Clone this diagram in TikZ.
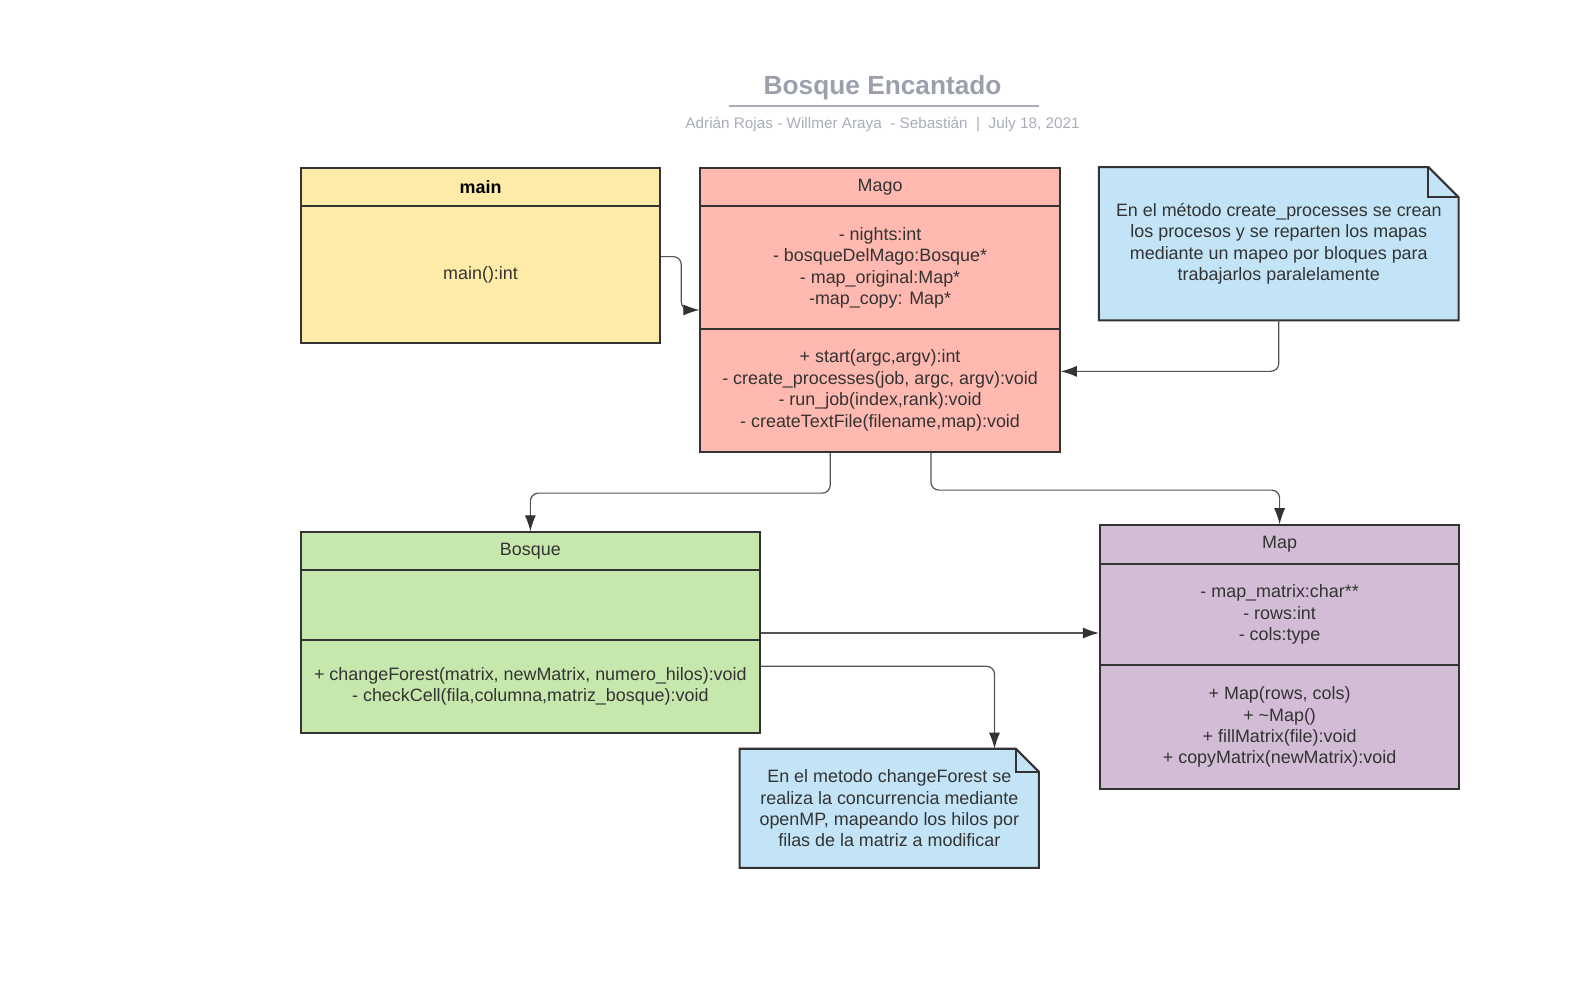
\documentclass[tikz,border=0pt]{standalone}
\usepackage{fontspec}
\setmainfont{Liberation Sans}
\usetikzlibrary{arrows.meta}

\definecolor{boxline}{HTML}{333333}
\definecolor{linkgray}{HTML}{555555}
\definecolor{textgray}{HTML}{333333}
\definecolor{titlegray}{HTML}{9CA0AD}
\definecolor{subgray}{HTML}{A9ADB8}
\definecolor{mainfill}{HTML}{FFEBA8}
\definecolor{magofill}{HTML}{FFB9B0}
\definecolor{notefill}{HTML}{C3E4F7}
\definecolor{bosquefill}{HTML}{C7E8AC}
\definecolor{mapfill}{HTML}{D3BCD5}

\tikzset{
    compart/.style={draw=boxline, line width=2pt, anchor=north west, inner sep=0pt,
        minimum width=357pt, align=center, text=textgray,
        font=\fontsize{17.8}{21.3}\selectfont},
    notetext/.style={anchor=north west, inner sep=0pt, align=center, text=textgray,
        font=\fontsize{17.8}{21.3}\selectfont},
    notebox/.style={draw=boxline, line width=2pt, fill=notefill},
    link/.style={draw=linkgray, line width=1.2pt, rounded corners=8pt,
        -{Latex[length=16pt,width=11pt,color=boxline]}},
}

\begin{document}
\begin{tikzpicture}[x=1pt, y=-1pt]
    \useasboundingbox (0,0) rectangle (1569,993.6);

    % Title
    \node[text=titlegray, font=\fontsize{26.1}{30}\selectfont\bfseries] (title) at (877,87.5) {Bosque Encantado};
    \draw[subgray, line width=2pt] (724,105) -- (1032,105);
    \node[text=subgray, font=\fontsize{15.2}{18}\selectfont] (subtitle) at (877,123.5) {Adrián Rojas - Willmer Araya \ - Sebastián \ | \ July 18, 2021};

    % Draw nodes for class main
    \node[compart, fill=mainfill, minimum height=38pt, text=black] (mainhead) at (298,166) {\textbf{main}};
    \node[compart, fill=mainfill, minimum height=136pt] (mainbody) at (298,204) {main():int};

    % Draw nodes for class Mago
    \node[compart, fill=magofill, minimum height=38pt] (magohead) at (695,166) {Mago};
    \node[compart, fill=magofill, minimum height=122pt] (magoattr) at (695,204)
        {- nights:int\\- bosqueDelMago:Bosque*\\- map\_original:Map*\\-map\_copy: Map*};
    \node[compart, fill=magofill, minimum height=122pt] (magometh) at (695,326)
        {+ start(argc,argv):int\\- create\_processes(job, argc, argv):void\\- run\_job(index,rank):void\\- createTextFile(filename,map):void};

    % Draw nodes for class Bosque
    \node[compart, fill=bosquefill, minimum width=456pt, minimum height=37pt] (bosquehead) at (298,528) {Bosque};
    \node[compart, fill=bosquefill, minimum width=456pt, minimum height=70pt] (bosqueattr) at (298,565) {};
    \node[compart, fill=bosquefill, minimum width=456pt, minimum height=92pt] (bosquemeth) at (298,635)
        {+ changeForest(matrix, newMatrix, numero\_hilos):void\\- checkCell(fila,columna,matriz\_bosque):void};

    % Draw nodes for class Map
    \node[compart, fill=mapfill, minimum height=38pt] (maphead) at (1092,521) {Map};
    \node[compart, fill=mapfill, minimum height=101pt] (mapattr) at (1092,559)
        {- map\_matrix:char**\\- rows:int\\- cols:type};
    \node[compart, fill=mapfill, minimum height=123pt] (mapmeth) at (1092,660)
        {+ Map(rows, cols)\\+ \textasciitilde Map()\\+ fillMatrix(file):void\\+ copyMatrix(newMatrix):void};

    % Draw the notes (folded corner)
    \node[notetext, minimum width=357pt, minimum height=152pt] (note1) at (1092,166) {};
    \draw[notebox] (note1.north west) -- ([xshift=-30pt]note1.north east) -- ([yshift=-30pt]note1.north east)
        -- (note1.south east) -- (note1.south west) -- cycle;
    \draw[boxline, line width=2pt] ([xshift=-30pt]note1.north east) |- ([yshift=-30pt]note1.north east);
    \node[notetext, minimum width=357pt, minimum height=152pt] (note1txt) at (1092,166)
        {En el método create\_processes se crean\\los procesos y se reparten los mapas\\mediante un mapeo por bloques para\\trabajarlos paralelamente};

    \node[notetext, minimum width=297pt, minimum height=118pt] (note2) at (735,744) {};
    \draw[notebox] (note2.north west) -- ([xshift=-23pt]note2.north east) -- ([yshift=-23pt]note2.north east)
        -- (note2.south east) -- (note2.south west) -- cycle;
    \draw[boxline, line width=2pt] ([xshift=-23pt]note2.north east) |- ([yshift=-23pt]note2.north east);
    \node[notetext, minimum width=297pt, minimum height=118pt] (note2txt) at (735,744)
        {En el metodo changeForest se\\realiza la concurrencia mediante\\openMP, mapeando los hilos por\\filas de la matriz a modificar};

    % Draw all connectors
    \draw[link] ([yshift=18pt]mainbody.east) -- ++(20,0) |- ([yshift=-42pt]magoattr.west);
    \draw[link] (note1.south) |- ([yshift=19pt]magometh.east);
    \draw[link] ([xshift=-49.5pt]magometh.south) -- ++(0,40) -| (bosquehead.north);
    \draw[link] ([xshift=50.5pt]magometh.south) -- ++(0,37) -| (maphead.north);
    \draw[link] ([yshift=-28pt]bosqueattr.east) -- ([yshift=-28pt]bosqueattr.east -| mapattr.west);
    \draw[link] ([yshift=20pt]bosquemeth.east) -| ([xshift=104.5pt]note2.north);

\end{tikzpicture}
\end{document}
